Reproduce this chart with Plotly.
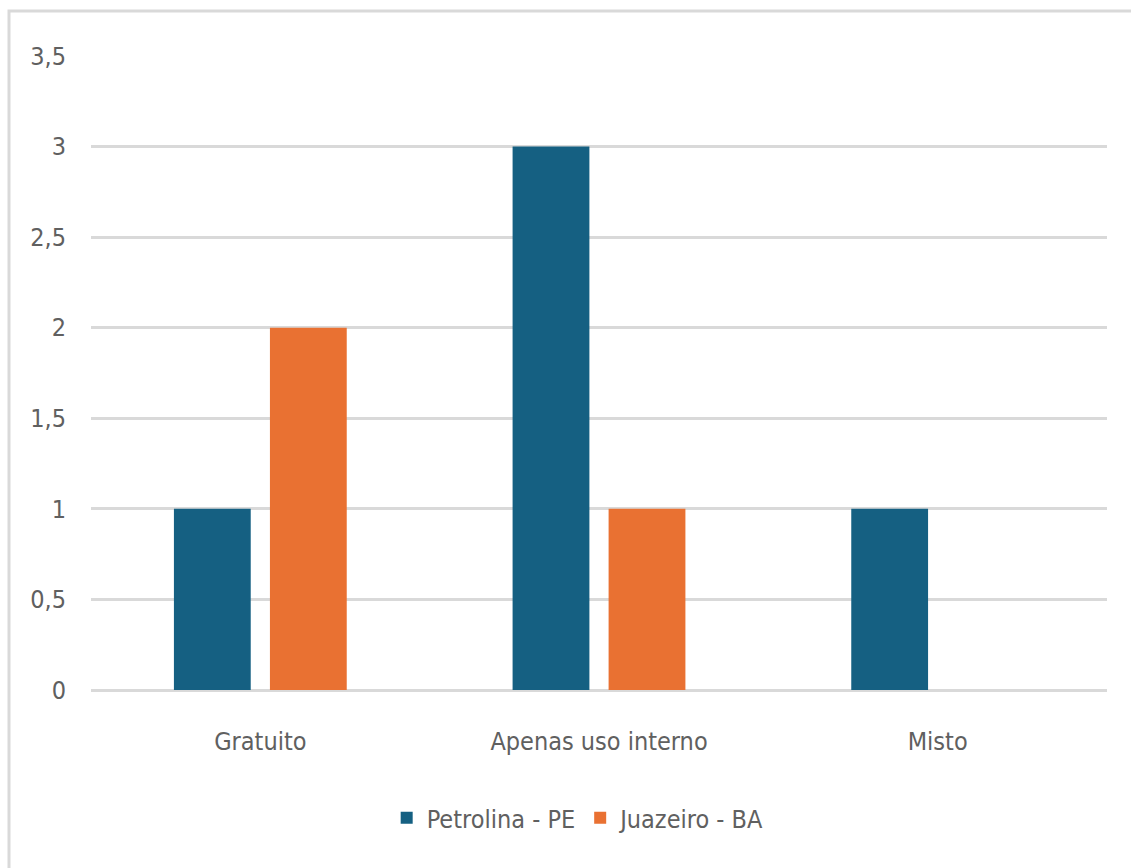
import plotly.graph_objects as go

categories = ["Gratuito", "Apenas uso interno", "Misto"]
petrolina = [1, 3, 1]
juazeiro = [2, 1, 0]
y_ticks = [0, 0.5, 1, 1.5, 2, 2.5, 3, 3.5]
y_tick_labels = ["0", "0,5", "1", "1,5", "2", "2,5", "3", "3,5"]

FONT = "Liberation Sans Narrow, DejaVu Sans Condensed, Arial Narrow, sans-serif"
TEXT = "#606060"
GRID = "#d9d9d9"

fig = go.Figure()
fig.add_trace(go.Bar(name="Petrolina - PE", x=categories, y=petrolina,
                     marker=dict(color="#156082", line=dict(width=0))))
fig.add_trace(go.Bar(name="Juazeiro - BA", x=categories, y=juazeiro,
                     marker=dict(color="#E97132", line=dict(width=0))))

fig.update_layout(
    width=1131, height=868,
    margin=dict(l=91, r=24, t=56, b=178),
    paper_bgcolor="white", plot_bgcolor="white",
    barmode="group", bargap=0.433, bargroupgap=0.2,
    font=dict(family=FONT, size=25, color=TEXT),
    showlegend=True,
    legend=dict(orientation="h", x=0.48, xanchor="center", y=-0.202, yanchor="middle",
                font=dict(family=FONT, size=25, color=TEXT), itemwidth=30,
                bgcolor="rgba(0,0,0,0)"),
    xaxis=dict(showgrid=False, showline=False, ticks="", zeroline=False,
               ticklabelstandoff=34, tickfont=dict(size=25, color=TEXT)),
    yaxis=dict(range=[0, 3.5], tickvals=y_ticks, ticktext=y_tick_labels,
               showgrid=True, gridcolor=GRID, gridwidth=3,
               zeroline=True, zerolinecolor=GRID, zerolinewidth=3,
               showline=False, ticks="", ticklabelstandoff=24,
               tickfont=dict(size=25, color=TEXT)),
    shapes=[dict(type="rect", xref="paper", yref="paper",
                 x0=-0.0807, x1=1.2, y0=-0.6, y1=1.071,
                 line=dict(color=GRID, width=3), layer="below")],
)

fig.write_html("out.html")
